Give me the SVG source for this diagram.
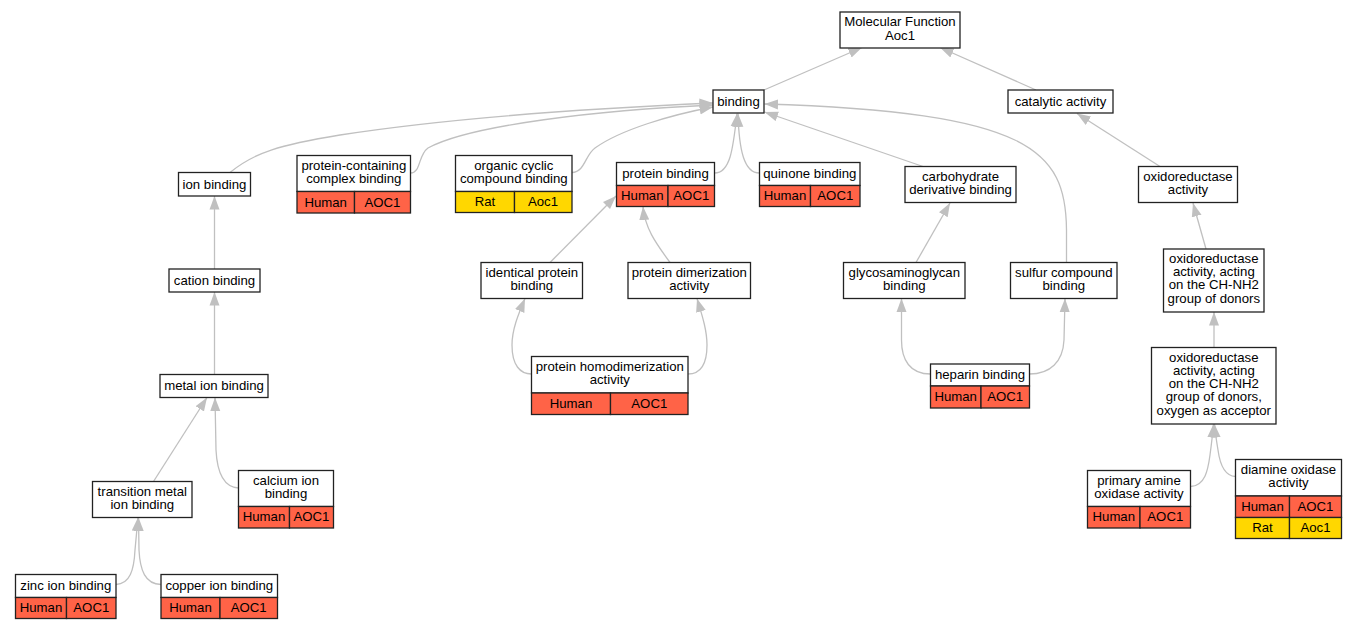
<svg xmlns="http://www.w3.org/2000/svg" width="1357" height="629" viewBox="0 0 1357 629">
<style>
text{font-family:"Liberation Sans",Arial,sans-serif;font-size:13.2px;fill:#000;text-anchor:middle}
.b{fill:#fff;stroke:#222;stroke-width:1.3}
.h{fill:#ff6347;stroke:#222;stroke-width:1.3}
.r{fill:#ffd700;stroke:#222;stroke-width:1.3}
.e{fill:none;stroke:#c0c0c0;stroke-width:1.3;marker-end:url(#arr)}
</style>
<defs>
<marker id="arr" markerWidth="15" markerHeight="12" refX="13.5" refY="5.5" orient="auto" markerUnits="userSpaceOnUse"><path d="M0,0.5 L13.5,5.5 L0,10.5 z" fill="#c0c0c0"/></marker>
</defs>
<rect width="1357" height="629" fill="#fff"/>
<g id="edges">
<path class="e" d="M764,90 L862,47.5"/>
<path class="e" d="M1036,90 L940,47.5"/>
<path class="e" d="M1160,166.5 L1077,113.5"/>
<path class="e" d="M230,172.5 C255,152 280,145 340,135 C450,118 600,108 713,103"/>
<path class="e" d="M410.5,173 C421,173 418,155 428,148 C470,125 600,110 713,105"/>
<path class="e" d="M572,172.5 C585,172 585,155 595,148 C620,130 670,115 713,107"/>
<path class="e" d="M714.5,173 C730,173 733,150 737,113.5"/>
<path class="e" d="M759.5,173 C744,173 739,150 738,113.5"/>
<path class="e" d="M923,166.5 L764.5,112"/>
<path class="e" d="M1066.5,262.5 L1066.5,230 C1066,150 1030,112 764.5,104"/>
<path class="e" d="M550,262.5 L616,196"/>
<path class="e" d="M670,262.5 C655,242 645,228 643,206.5"/>
<path class="e" d="M531.5,374 C520,374 512,365 512,345 C512,330 518,315 525,298.5"/>
<path class="e" d="M688,374 C700,374 707,365 707,345 C707,330 702,315 697,298.5"/>
<path class="e" d="M916,262.5 L950,203"/>
<path class="e" d="M930.5,374 C910,374 901.5,360 901.5,340 L901.5,298.5"/>
<path class="e" d="M1029.5,374 C1050,374 1063,362 1064,340 L1065,298.5"/>
<path class="e" d="M1206,249 L1193,203"/>
<path class="e" d="M1214,347.5 L1214,312"/>
<path class="e" d="M1190.5,486.5 C1205,486 1208,470 1210,455 C1212,440 1213,430 1213.5,424"/>
<path class="e" d="M1235.5,476.5 C1225,476 1220,465 1218,450 C1216,438 1215,430 1214.5,424"/>
<path class="e" d="M214.5,269 L214.5,196"/>
<path class="e" d="M214.5,374.5 L214.5,292"/>
<path class="e" d="M153.5,481.5 L207,397.5"/>
<path class="e" d="M238.5,488 C222,487 217,470 216,450 L215,397.5"/>
<path class="e" d="M116,584.5 C130,584 134,570 135,550 L138,517.5"/>
<path class="e" d="M161,584.5 C145,584 140,570 139,550 L138.5,517.5"/>
</g>
<g id="n-mf"><rect class="b" x="840" y="12" width="120" height="36"/><text x="900" y="26">Molecular Function</text><text x="900" y="39.5">Aoc1</text></g>
<g id="n-binding"><rect class="b" x="713" y="90" width="51" height="23"/><text x="738.5" y="105.5">binding</text></g>
<g id="n-catalytic"><rect class="b" x="1008" y="90" width="105" height="23"/><text x="1060.5" y="105.5">catalytic activity</text></g>
<g id="n-ion"><rect class="b" x="178.5" y="172.5" width="72" height="23.5"/><text x="214.5" y="188.5">ion binding</text></g>
<g id="n-pcc"><rect class="b" x="297" y="155.5" width="113.5" height="36"/><text x="353.8" y="169.5">protein-containing</text><text x="353.8" y="183">complex binding</text><rect class="h" x="297" y="191.5" width="57.5" height="21.5"/><rect class="h" x="354.5" y="191.5" width="56" height="21.5"/><text x="325.7" y="206.5">Human</text><text x="382.5" y="206.5">AOC1</text></g>
<g id="n-organic"><rect class="b" x="455.5" y="155.5" width="116.5" height="36"/><text x="513.8" y="169.5">organic cyclic</text><text x="513.8" y="183">compound binding</text><rect class="r" x="455.5" y="191.5" width="59" height="21"/><rect class="r" x="514.5" y="191.5" width="57.5" height="21"/><text x="485" y="206">Rat</text><text x="543" y="206">Aoc1</text></g>
<g id="n-protein"><rect class="b" x="616.5" y="162.5" width="98" height="23"/><text x="665.5" y="178">protein binding</text><rect class="h" x="616.5" y="185.5" width="51.5" height="21"/><rect class="h" x="668" y="185.5" width="46.5" height="21"/><text x="642.3" y="200">Human</text><text x="691.3" y="200">AOC1</text></g>
<g id="n-quinone"><rect class="b" x="759.5" y="162.5" width="100.5" height="23"/><text x="809.8" y="178">quinone binding</text><rect class="h" x="759.5" y="185.5" width="51" height="21"/><rect class="h" x="810.5" y="185.5" width="49.5" height="21"/><text x="785" y="200">Human</text><text x="835.3" y="200">AOC1</text></g>
<g id="n-carb"><rect class="b" x="905" y="166.5" width="111" height="36"/><text x="960.5" y="180.5">carbohydrate</text><text x="960.5" y="194">derivative binding</text></g>
<g id="n-oxido"><rect class="b" x="1138.5" y="166.5" width="99" height="36"/><text x="1188" y="180.5">oxidoreductase</text><text x="1188" y="194">activity</text></g>
<g id="n-cation"><rect class="b" x="169" y="269" width="91" height="23"/><text x="214.5" y="284.5">cation binding</text></g>
<g id="n-metal"><rect class="b" x="160" y="374.5" width="108" height="23"/><text x="214" y="390">metal ion binding</text></g>
<g id="n-identical"><rect class="b" x="481" y="262.5" width="101.5" height="36"/><text x="531.8" y="276.5">identical protein</text><text x="531.8" y="290">binding</text></g>
<g id="n-dimer"><rect class="b" x="628" y="262.5" width="122.5" height="36"/><text x="689.3" y="276.5">protein dimerization</text><text x="689.3" y="290">activity</text></g>
<g id="n-glyco"><rect class="b" x="843.5" y="262.5" width="121.5" height="36"/><text x="904.3" y="276.5">glycosaminoglycan</text><text x="904.3" y="290">binding</text></g>
<g id="n-sulfur"><rect class="b" x="1010.5" y="262.5" width="106.5" height="36"/><text x="1063.8" y="276.5">sulfur compound</text><text x="1063.8" y="290">binding</text></g>
<g id="n-chnh2"><rect class="b" x="1163.5" y="249" width="100.5" height="63"/><text x="1213.8" y="262.7">oxidoreductase</text><text x="1213.8" y="276">activity, acting</text><text x="1213.8" y="289.3">on the CH-NH2</text><text x="1213.8" y="302.6">group of donors</text></g>
<g id="n-oxygen"><rect class="b" x="1151.5" y="347.5" width="124.5" height="76.5"/><text x="1213.8" y="361.5">oxidoreductase</text><text x="1213.8" y="374.8">activity, acting</text><text x="1213.8" y="388.1">on the CH-NH2</text><text x="1213.8" y="401.4">group of donors,</text><text x="1213.8" y="414.7">oxygen as acceptor</text></g>
<g id="n-homodim"><rect class="b" x="531.5" y="356.5" width="156.5" height="36.5"/><text x="609.8" y="370.5">protein homodimerization</text><text x="609.8" y="384">activity</text><rect class="h" x="531.5" y="393" width="79" height="21.5"/><rect class="h" x="610.5" y="393" width="77.5" height="21.5"/><text x="571" y="407.8">Human</text><text x="649.3" y="407.8">AOC1</text></g>
<g id="n-heparin"><rect class="b" x="930.5" y="364" width="99" height="22"/><text x="980" y="379">heparin binding</text><rect class="h" x="930.5" y="386" width="50.5" height="22"/><rect class="h" x="981" y="386" width="48.5" height="22"/><text x="955.7" y="401">Human</text><text x="1005.2" y="401">AOC1</text></g>
<g id="n-transition"><rect class="b" x="92.5" y="481.5" width="99.5" height="36"/><text x="142.3" y="495.5">transition metal</text><text x="142.3" y="509">ion binding</text></g>
<g id="n-calcium"><rect class="b" x="238.5" y="470.5" width="95" height="36"/><text x="286" y="484.5">calcium ion</text><text x="286" y="498">binding</text><rect class="h" x="238.5" y="506.5" width="51" height="21.5"/><rect class="h" x="289.5" y="506.5" width="44" height="21.5"/><text x="264" y="521">Human</text><text x="311.5" y="521">AOC1</text></g>
<g id="n-primary"><rect class="b" x="1087.5" y="470.5" width="103" height="36"/><text x="1139" y="484.5">primary amine</text><text x="1139" y="498">oxidase activity</text><rect class="h" x="1087.5" y="506.5" width="52.5" height="21.5"/><rect class="h" x="1140" y="506.5" width="50.5" height="21.5"/><text x="1113.8" y="521">Human</text><text x="1165.3" y="521">AOC1</text></g>
<g id="n-diamine"><rect class="b" x="1235.5" y="459.5" width="106" height="36.5"/><text x="1288.5" y="473.5">diamine oxidase</text><text x="1288.5" y="487">activity</text><rect class="h" x="1235.5" y="496" width="54" height="21.5"/><rect class="h" x="1289.5" y="496" width="52" height="21.5"/><text x="1262.5" y="510.5">Human</text><text x="1315.5" y="510.5">AOC1</text><rect class="r" x="1235.5" y="517.5" width="54" height="21"/><rect class="r" x="1289.5" y="517.5" width="52" height="21"/><text x="1262.5" y="532">Rat</text><text x="1315.5" y="532">Aoc1</text></g>
<g id="n-zinc"><rect class="b" x="15.5" y="574.5" width="100.5" height="23"/><text x="65.8" y="590">zinc ion binding</text><rect class="h" x="15.5" y="597.5" width="51" height="21"/><rect class="h" x="66.5" y="597.5" width="49.5" height="21"/><text x="41" y="612">Human</text><text x="91.3" y="612">AOC1</text></g>
<g id="n-copper"><rect class="b" x="161" y="574.5" width="116.5" height="23"/><text x="219.3" y="590">copper ion binding</text><rect class="h" x="161" y="597.5" width="59" height="21"/><rect class="h" x="220" y="597.5" width="57.5" height="21"/><text x="190.5" y="612">Human</text><text x="248.7" y="612">AOC1</text></g>
</svg>
